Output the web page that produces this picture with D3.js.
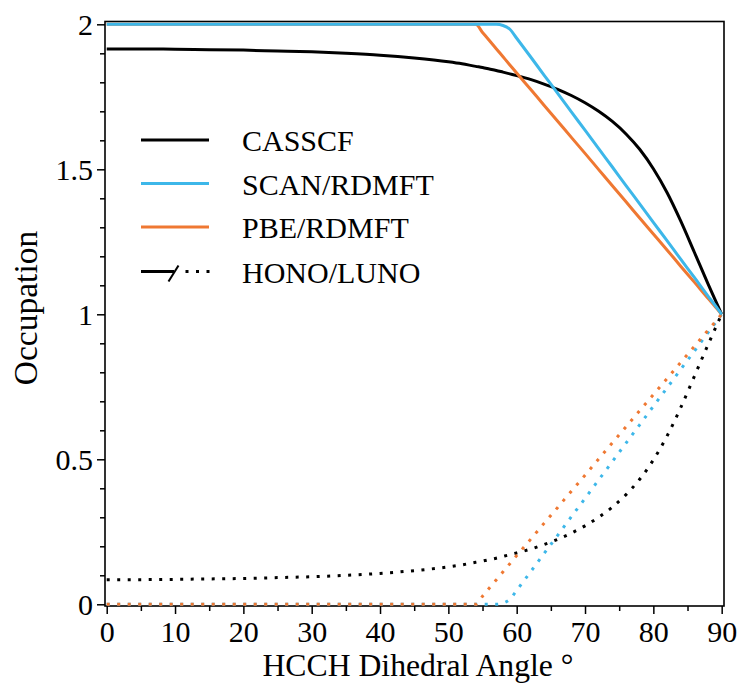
<!DOCTYPE html>
<html>
<head>
<meta charset="utf-8">
<script src="https://cdn.jsdelivr.net/npm/d3@7"></script>
<style>
  html, body { margin: 0; padding: 0; background: #fff; }
  svg { display: block; }
  text { font-family: "Liberation Serif", "Times New Roman", serif; fill: #000; }
</style>
</head>
<body>
<svg id="chart" width="741" height="693"></svg>
<script>
// ---- Data ----
const angles = [0,5,10,15,20,25,30,35,40,45,50,52,54,55,56,57,58,59,60,62,64,66,68,70,72,74,76,78,80,82,84,86,88,89,90];

const casscf = [1.915,1.915,1.914,1.9125,1.911,1.908,1.905,1.900,1.8935,1.884,1.871,1.864,1.855,1.851,1.846,1.841,1.835,1.829,1.823,1.810,1.794,1.776,1.7545,1.7295,1.700,1.665,1.622,1.569,1.502,1.420,1.322,1.214,1.105,1.052,1.000];
const casscfLuno = [0.085,0.085,0.086,0.0875,0.089,0.092,0.095,0.100,0.1065,0.116,0.129,0.136,0.145,0.149,0.154,0.159,0.165,0.171,0.177,0.190,0.206,0.224,0.2455,0.2705,0.300,0.335,0.378,0.431,0.498,0.580,0.678,0.786,0.895,0.948,1.000];

const scan = [2,2,2,2,2,2,2,2,2,2,2,2,2,2,2,2.000,1.996,1.983,1.952,1.889,1.825,1.762,1.698,1.635,1.571,1.508,1.444,1.381,1.317,1.254,1.190,1.127,1.063,1.032,1.000];
const scanLuno = [0,0,0,0,0,0,0,0,0,0,0,0,0,0,0,0.000,0.004,0.017,0.048,0.111,0.175,0.238,0.302,0.365,0.429,0.492,0.556,0.619,0.683,0.746,0.810,0.873,0.937,0.968,1.000];

const pbe = [2,2,2,2,2,2,2,2,2,2,2,2,2.000,1.972,1.944,1.916,1.888,1.860,1.832,1.777,1.721,1.666,1.610,1.555,1.499,1.443,1.388,1.332,1.277,1.222,1.166,1.111,1.055,1.028,1.000];
const pbeLuno = [0,0,0,0,0,0,0,0,0,0,0,0,0.000,0.028,0.056,0.084,0.112,0.140,0.168,0.223,0.279,0.334,0.390,0.445,0.501,0.557,0.612,0.668,0.723,0.778,0.834,0.889,0.945,0.972,1.000];

const xTicks = [0,10,20,30,40,50,60,70,80,90];
const xMinorTicks = [5,15,25,35,45,55,65,75,85];
const yTicks = [0,0.5,1,1.5,2];
const yTickLabels = ["0","0.5","1","1.5","2"];
const yMinorTicks = [0.1,0.2,0.3,0.4,0.6,0.7,0.8,0.9,1.1,1.2,1.3,1.4,1.6,1.7,1.8,1.9];

const legendLabels = ["CASSCF","SCAN/RDMFT","PBE/RDMFT","HONO/LUNO"];
const colors = { black: "#000000", blue: "#3db7e9", orange: "#ef7832" };

// ---- Layout ----
const svg = d3.select("#chart");
const L = 105, R = 724, T = 21.5, B = 606;
const x = d3.scaleLinear().domain([-0.25, 90.34]).range([L, R]);
const y = d3.scaleLinear().domain([-0.0059, 2.0097]).range([B, T]);

const fontSize = 30;
const fontFam = '"Liberation Serif", "Times New Roman", serif';

// axes
const gx = svg.append("g").attr("transform", `translate(0,${B})`)
  .call(d3.axisBottom(x).tickValues(xTicks).tickFormat(d3.format("d")).tickSize(8).tickPadding(7));
const gxm = svg.append("g").attr("transform", `translate(0,${B})`)
  .call(d3.axisBottom(x).tickValues(xMinorTicks).tickFormat("").tickSize(5));
const gy = svg.append("g").attr("transform", `translate(${L},0)`)
  .call(d3.axisLeft(y).tickValues(yTicks).tickFormat((d,i) => yTickLabels[i]).tickSize(8).tickPadding(4));
const gym = svg.append("g").attr("transform", `translate(${L},0)`)
  .call(d3.axisLeft(y).tickValues(yMinorTicks).tickFormat("").tickSize(5));

[gx, gxm, gy, gym].forEach(g => {
  g.select(".domain").remove();
  g.selectAll("line").attr("stroke", "#000").attr("stroke-width", 1.5);
  g.selectAll("text").attr("font-size", fontSize).attr("font-family", fontFam).attr("fill", "#000");
});
gy.selectAll("text").attr("dy", "0.33em");

// frame
svg.append("rect").attr("x", L).attr("y", T).attr("width", R - L).attr("height", B - T)
  .attr("fill", "none").attr("stroke", "#000").attr("stroke-width", 1.6);

// axis titles
svg.append("text").attr("x", 418).attr("y", 676).attr("text-anchor", "middle")
  .attr("font-size", 31.7).text("HCCH Dihedral Angle \u00B0");
svg.append("text").attr("transform", `translate(37,308) rotate(-90)`)
  .attr("text-anchor", "middle").attr("font-size", 33.5).text("Occupation");

// lines
const plot = svg.append("g");
const line = d3.line().x(d => x(d[0])).y(d => y(d[1])).curve(d3.curveMonotoneX);
function drawSeries(vals, color, dotted) {
  const pts = angles.map((a, i) => [a, vals[i]]);
  const p = plot.append("path").datum(pts).attr("d", line)
    .attr("fill", "none").attr("stroke", color).attr("stroke-width", 3);
  if (dotted) p.attr("stroke-dasharray", "3,7.5");
  else p.attr("stroke-linejoin", "round");
}
drawSeries(casscfLuno, colors.black, true);
drawSeries(scanLuno, colors.blue, true);
drawSeries(pbeLuno, colors.orange, true);
drawSeries(casscf, colors.black, false);
drawSeries(pbe, colors.orange, false);
drawSeries(scan, colors.blue, false);

// legend
const legY = [140, 183.5, 227, 271.5];
const legColors = [colors.black, colors.blue, colors.orange, colors.black];
const leg = svg.append("g");
legendLabels.forEach((lab, i) => {
  const yy = legY[i];
  if (i < 3) {
    leg.append("line").attr("x1", 141).attr("x2", 209).attr("y1", yy).attr("y2", yy)
      .attr("stroke", legColors[i]).attr("stroke-width", 3);
  } else {
    leg.append("line").attr("x1", 141).attr("x2", 174).attr("y1", yy).attr("y2", yy)
      .attr("stroke", "#000").attr("stroke-width", 3);
    leg.append("line").attr("x1", 168.5).attr("x2", 178.5).attr("y1", yy + 10).attr("y2", yy - 6)
      .attr("stroke", "#000").attr("stroke-width", 2);
    leg.append("line").attr("x1", 185.5).attr("x2", 211).attr("y1", yy).attr("y2", yy)
      .attr("stroke", "#000").attr("stroke-width", 3).attr("stroke-dasharray", "3,7.5");
  }
  leg.append("text").attr("x", 242).attr("y", yy + 11).attr("font-size", fontSize).text(lab);
});
</script>
</body>
</html>
